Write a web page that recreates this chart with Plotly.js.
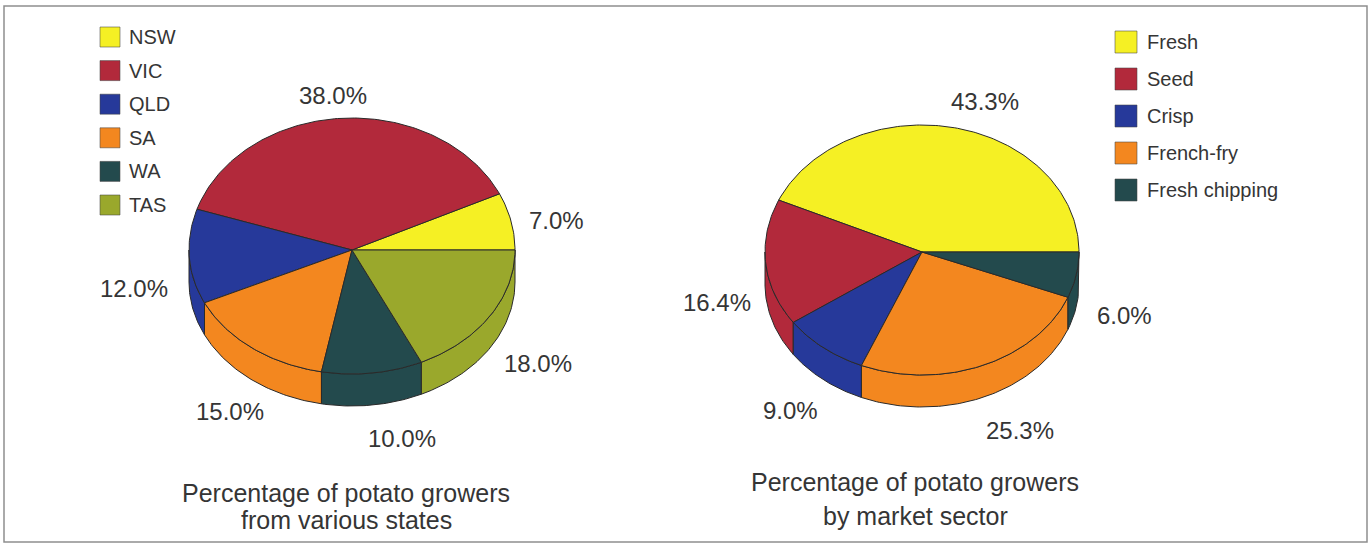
<!DOCTYPE html>
<html>
<head>
<meta charset="utf-8">
<script src="https://cdn.plot.ly/plotly-3.0.1.min.js"></script>
<style>
  html, body { margin: 0; padding: 0; background: #ffffff; }
  #chart { width: 1371px; height: 544px; }
</style>
</head>
<body>
<div id="chart"></div>
<script>
// ---- data ----
const stateNames  = ['NSW', 'VIC', 'QLD', 'SA', 'WA', 'TAS'];
const stateShares = [7.0, 38.0, 12.0, 15.0, 10.0, 18.0];

const sectorNames  = ['Fresh', 'Seed', 'Crisp', 'French-fry', 'Fresh chipping'];
const sectorShares = [43.3, 16.4, 9.0, 25.3, 6.0];

const stateTitle  = ['Percentage of potato growers', 'from various states'];
const sectorTitle = ['Percentage of potato growers', 'by market sector'];

// ---- styles ----
const stateColors  = ['#f5f024', '#b2293b', '#26399a', '#f3871f', '#234a4d', '#9aa82c'];
const sectorColors = ['#f5f024', '#b2293b', '#26399a', '#f3871f', '#234a4d'];

const W = 1371, H = 544;
const FONT = '"Liberation Sans", Arial, Helvetica, sans-serif';
const TEXT = '#353535';
const EDGE = '#2a2a2a';

// tilted pie geometry (plot units are pixels, y grows downward)
const statePie  = { cx: 352, cy: 250, rx: 163, ryTop: 132, ryBot: 124, depth: 32 };
const sectorPie = { cx: 922, cy: 252, rx: 157, ryTop: 127, ryBot: 123, depth: 32 };

// percentage label anchor points, one per slice
const stateLabelPos  = [[556, 220], [333, 95], [134, 288], [230, 411], [402, 438], [538, 363]];
const sectorLabelPos = [[985, 101], [717, 302], [790, 410], [1020, 430], [1124, 315]];

// legend placement
const stateLegend  = { x: 100, size: 20, y0: 37, step: 33.6, textX: 127, font: 20 };
const sectorLegend = { x: 1115, size: 22, y0: 42, step: 37, textX: 1145, font: 20 };

// ---- geometry helpers ----
function radiusY(p, t) { return Math.sin(t) >= 0 ? p.ryTop : p.ryBot; }
function ellipsePoint(p, deg, drop) {
  const t = deg * Math.PI / 180;
  return [p.cx + p.rx * Math.cos(t), p.cy - radiusY(p, t) * Math.sin(t) + (drop || 0)];
}
function arcPoints(p, a0, a1, drop) {
  const n = Math.max(2, Math.ceil(Math.abs(a1 - a0)));
  const pts = [];
  for (let i = 0; i <= n; i++) pts.push(ellipsePoint(p, a0 + (a1 - a0) * i / n, drop));
  return pts;
}
function polyTrace(pts, color) {
  return {
    type: 'scatter', mode: 'lines',
    x: pts.map(q => q[0]), y: pts.map(q => q[1]),
    fill: 'toself', fillcolor: color,
    line: { color: EDGE, width: 1 },
    hoverinfo: 'skip', showlegend: false
  };
}

// slices run counter-clockwise from 3 o'clock
function pieTraces(p, shares, colors) {
  const total = shares.reduce((a, b) => a + b, 0);
  const sides = [], tops = [];
  let acc = 0;
  shares.forEach((v, i) => {
    const a0 = acc / total * 360;
    acc += v;
    const a1 = acc / total * 360;
    // visible rim: front half of the ellipse
    const s0 = Math.max(a0, 180), s1 = Math.min(a1, 360);
    if (s1 > s0) {
      const upper = arcPoints(p, s0, s1, 0);
      const lower = arcPoints(p, s1, s0, p.depth);
      const rim = upper.concat(lower);
      rim.push(upper[0]);
      sides.push(polyTrace(rim, colors[i]));
    }
    const wedge = [[p.cx, p.cy]].concat(arcPoints(p, a0, a1, 0));
    wedge.push([p.cx, p.cy]);
    tops.push(polyTrace(wedge, colors[i]));
  });
  return sides.concat(tops);
}

function valueLabels(shares, positions, size) {
  return shares.map((v, i) => ({
    x: positions[i][0], y: positions[i][1], xref: 'x', yref: 'y',
    text: v.toFixed(1) + '%', showarrow: false,
    xanchor: 'center', yanchor: 'middle',
    font: { family: FONT, size: size, color: TEXT }
  }));
}

function legendItems(names, colors, lg) {
  const shapes = [], notes = [];
  names.forEach((name, i) => {
    const yc = lg.y0 + i * lg.step;
    shapes.push({
      type: 'rect', xref: 'x', yref: 'y',
      x0: lg.x, x1: lg.x + lg.size, y0: yc - lg.size / 2, y1: yc + lg.size / 2,
      fillcolor: colors[i], line: { color: 'rgba(70,70,70,0.55)', width: 1 }
    });
    notes.push({
      x: lg.textX, y: yc, xref: 'x', yref: 'y', text: name, showarrow: false,
      xanchor: 'left', yanchor: 'middle',
      font: { family: FONT, size: lg.font, color: TEXT }
    });
  });
  return { shapes, notes };
}

function titleLines(lines, x, ys, size) {
  return lines.map((t, i) => ({
    x: x, y: ys[i], xref: 'x', yref: 'y', text: t, showarrow: false,
    xanchor: 'center', yanchor: 'middle',
    font: { family: FONT, size: size, color: TEXT }
  }));
}

// ---- assemble ----
const traces = pieTraces(statePie, stateShares, stateColors)
  .concat(pieTraces(sectorPie, sectorShares, sectorColors));

const leftLegend = legendItems(stateNames, stateColors, stateLegend);
const rightLegend = legendItems(sectorNames, sectorColors, sectorLegend);

const annotations = []
  .concat(valueLabels(stateShares, stateLabelPos, 24))
  .concat(valueLabels(sectorShares, sectorLabelPos, 24))
  .concat(leftLegend.notes, rightLegend.notes)
  .concat(titleLines(stateTitle, 346, [493, 520], 25))
  .concat(titleLines(sectorTitle, 915, [482, 516], 25));

const frame = {
  type: 'rect', xref: 'x', yref: 'y', x0: 4, x1: 1367, y0: 6, y1: 542,
  line: { color: '#8e8e8e', width: 1.5 }, fillcolor: 'rgba(0,0,0,0)'
};

const layout = {
  width: W, height: H,
  margin: { l: 0, r: 0, t: 0, b: 0, pad: 0 },
  paper_bgcolor: '#ffffff', plot_bgcolor: '#ffffff',
  showlegend: false,
  xaxis: { range: [0, W], visible: false, fixedrange: true },
  yaxis: { range: [H, 0], visible: false, fixedrange: true },
  shapes: [frame].concat(leftLegend.shapes, rightLegend.shapes),
  annotations: annotations
};

Plotly.newPlot('chart', traces, layout, { staticPlot: true, displayModeBar: false });
</script>
</body>
</html>
